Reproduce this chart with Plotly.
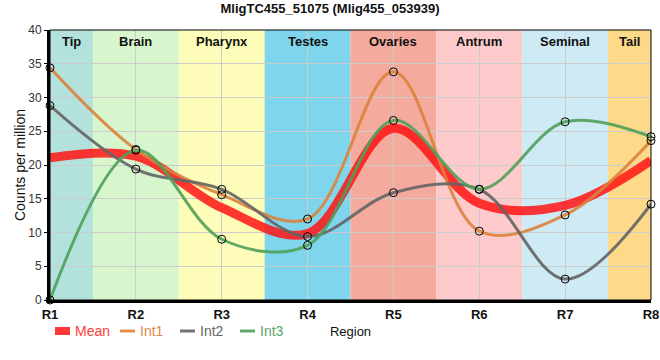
import plotly.graph_objects as go

regions = ["R1", "R2", "R3", "R4", "R5", "R6", "R7", "R8"]
x_pos = [1, 2, 3, 4, 5, 6, 7, 8]
int1 = [34.4, 22.3, 15.6, 12.0, 33.8, 10.2, 12.6, 23.6]
int2 = [28.8, 19.4, 16.4, 9.4, 15.9, 16.4, 3.1, 14.2]
int3 = [0.0, 22.2, 9.0, 8.1, 26.6, 16.4, 26.4, 24.2]
mean = [round((a + b + c) / 3, 2) for a, b, c in zip(int1, int2, int3)]

band_names = ["Tip", "Brain", "Pharynx", "Testes", "Ovaries", "Antrum", "Seminal", "Tail"]
band_start = [1, 1.5, 2.5, 3.5, 4.5, 5.5, 6.5, 7.5]
band_end = [1.5, 2.5, 3.5, 4.5, 5.5, 6.5, 7.5, 8]
band_colors = ["#b3e2dd", "#d8f6ce", "#fdfdb9", "#7fd6ec", "#f4aa9c", "#fdcbcc", "#cdeaf5", "#fdd98a"]

W, H = 660, 360
ML, MR, MT, MB = 50, 9, 30, 60
PW, PH = W - ML - MR, H - MT - MB


def px_x(p):
    return (p - ML) / PW


def px_y(p):
    return (H - MB - p) / PH


fig = go.Figure()

mean_col = "rgba(255,20,20,0.85)"
fig.add_trace(go.Scatter(
    x=x_pos, y=mean, mode="lines", name="Mean", showlegend=False,
    line=dict(color=mean_col, width=9, shape="spline", smoothing=1.0),
))
series = [
    ("Int1", int1, "rgba(221,130,60,0.9)", "#e0894a"),
    ("Int2", int2, "rgba(100,100,100,0.9)", "#666666"),
    ("Int3", int3, "rgba(80,160,90,0.9)", "#5aa564"),
]
for name, ys, col, tcol in series:
    fig.add_trace(go.Scatter(
        x=x_pos, y=ys, mode="lines+markers", name=name, showlegend=False,
        line=dict(color=col, width=3, shape="spline", smoothing=1.0),
        marker=dict(size=8, color="rgba(0,0,0,0)", line=dict(color="black", width=1)),
        cliponaxis=False,
    ))

shapes = []
annotations = []
for nm, s, e, c in zip(band_names, band_start, band_end, band_colors):
    shapes.append(dict(type="rect", xref="x", yref="paper", x0=s, x1=e, y0=0, y1=1,
                       fillcolor=c, line=dict(width=0), layer="below"))
    annotations.append(dict(x=(s + e) / 2, y=1, xref="x", yref="paper", yanchor="top",
                            yshift=-2, text=f"<b>{nm}</b>", showarrow=False,
                            font=dict(size=13, color="#111")))
shapes.append(dict(type="rect", xref="paper", yref="paper", x0=0, x1=1, y0=0, y1=1,
                   line=dict(color="black", width=1), layer="above"))

# custom legend (bottom-left)
leg_y = px_y(331)
leg_items = [("Mean", mean_col, "#ff3b3b", 8, 55),
             ("Int1", "rgba(221,130,60,0.9)", "#e0894a", 3, 120),
             ("Int2", "rgba(100,100,100,0.9)", "#666666", 3, 180),
             ("Int3", "rgba(80,160,90,0.9)", "#5aa564", 3, 240)]
for nm, lc, tc, lw, x0 in leg_items:
    shapes.append(dict(type="line", xref="paper", yref="paper", x0=px_x(x0), x1=px_x(x0 + 15),
                       y0=leg_y, y1=leg_y, line=dict(color=lc, width=lw)))
    annotations.append(dict(x=px_x(x0 + 18), y=leg_y, xref="paper", yref="paper",
                            xanchor="left", yanchor="middle", text=nm, showarrow=False,
                            font=dict(size=14, color=tc)))

fig.update_layout(
    width=W, height=H,
    margin=dict(l=ML, r=MR, t=MT, b=MB, autoexpand=False),
    paper_bgcolor="white", plot_bgcolor="white",
    font=dict(family="Liberation Sans, Arial", size=12, color="#222"),
    title=dict(text="<b>MligTC455_51075 (Mlig455_053939)</b>", x=0.5, xanchor="center",
               y=0.99, yanchor="top", font=dict(size=13, color="#111"), automargin=False),
    shapes=shapes, annotations=annotations,
    showlegend=False,
    xaxis=dict(range=[1, 8], tickvals=x_pos, ticktext=[f"<b>{r}</b>" for r in regions],
               showgrid=True, gridcolor="#cccccc", showline=True, linecolor="black", linewidth=3,
               zeroline=False, ticks="", tickfont=dict(size=13, color="#111"), automargin=False,
               title=dict(text="Region", standoff=7, font=dict(size=13, color="#111"))),
    yaxis=dict(range=[0, 40], dtick=5, showgrid=True, gridcolor="#cccccc", showline=True,
               linecolor="black", linewidth=3, zeroline=False, ticks="outside", ticklen=3,
               tickcolor="black", tickfont=dict(size=12, color="#333"), automargin=False,
               title=dict(text="Counts per million", standoff=0, font=dict(size=14, color="#111"))),
)

fig.write_html("out.html", config={"displayModeBar": False},
               post_script="document.body.style.margin='0';")
